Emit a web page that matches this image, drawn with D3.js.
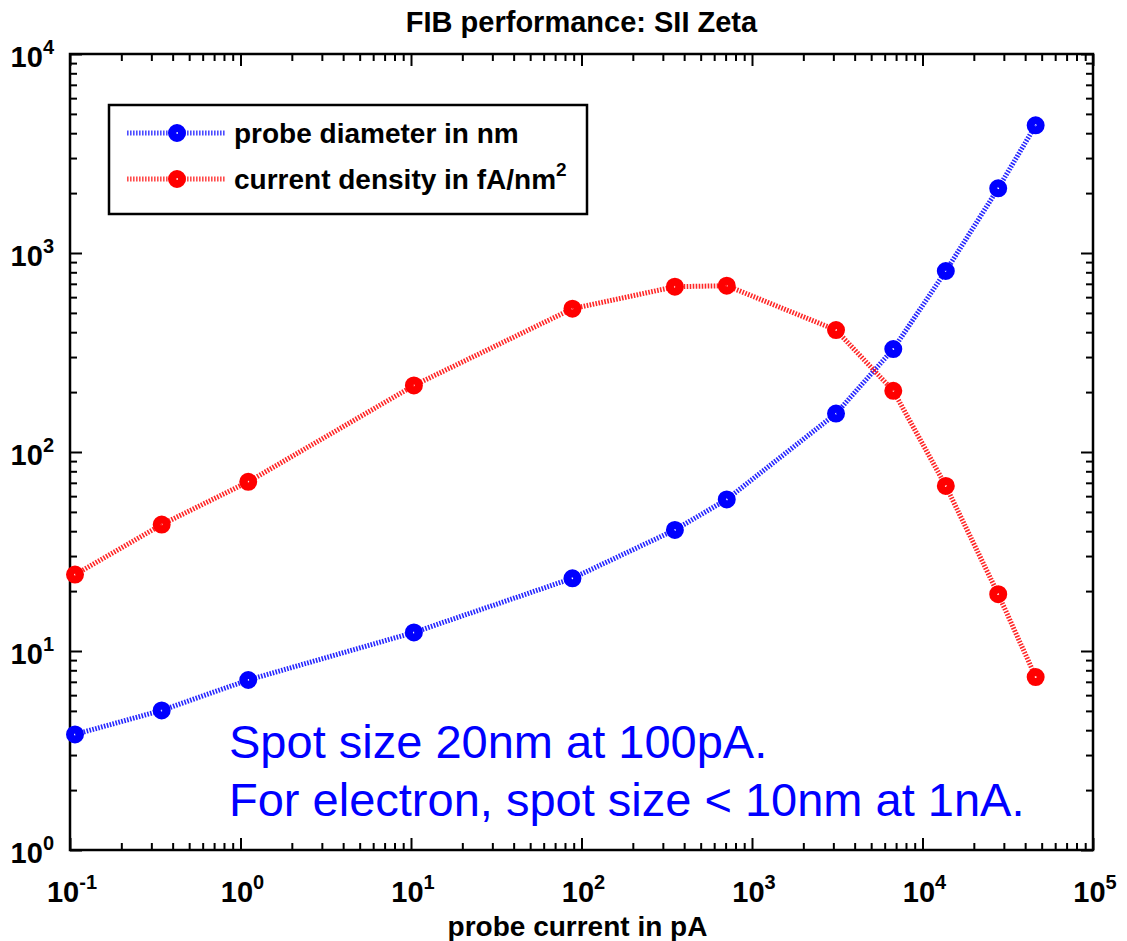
<!DOCTYPE html>
<html lang="en">
<head>
	<meta charset="utf-8">
	<title>FIB performance: SII Zeta</title>
	<script src="https://d3js.org/d3.v7.min.js"></script>
	<style type="text/css">
		body { margin: 0; background: #fff; }
		text { font-family: Arial, "Liberation Sans", Helvetica, sans-serif; }
	</style>
</head>
<body>
	<svg id="chart" width="1127" height="941"></svg>

	<script type="text/javascript">
	// data
	var probeCurrent = [0.107, 0.345, 1.11, 10.4, 88.5, 353, 711, 3110, 6740, 13700, 27800, 46100]   // pA
	var probeDiameter = [3.81, 5.03, 7.15, 12.4, 23.2, 40.6, 57.8, 156, 329, 812, 2115, 4383]      // nm
	var currentDensity = [24.2, 43.2, 70.8, 216, 525, 677, 685, 410, 203, 67.5, 19.3, 7.4]         // fA/nm^2

	var seriesNames = ["probe diameter in nm", "current density in fA/nm"]
	var seriesColors = ["#0000ff", "#ff0000"]

	var xExps = [-1, 0, 1, 2, 3, 4, 5]
	var yExps = [0, 1, 2, 3, 4]

	var titleText = "FIB performance: SII Zeta"
	var xLabelText = "probe current in pA"
	var noteLines = ["Spot size 20nm at 100pA.", "For electron, spot size < 10nm at 1nA."]

	// layout (plot box)
	var plotL = 70, plotR = 1093, plotT = 54, plotB = 850

	var x = d3.scaleLog().domain([0.1, 1e5]).range([plotL, plotR])
	var y = d3.scaleLog().domain([1, 1e4]).range([plotB, plotT])

	var svg = d3.select("#chart")

	// minor ticks (2..9 per decade)
	function minors(exps) {
		var out = []
		exps.slice(0, -1).forEach(e => {
			for (var m = 2; m <= 9; m++) out.push(m * Math.pow(10, e))
		})
		return out
	}
	var xMajor = xExps.map(e => Math.pow(10, e))
	var yMajor = yExps.map(e => Math.pow(10, e))
	var xMinor = minors(xExps)
	var yMinor = minors(yExps)

	function drawAxis(axisFn, scale, vals, size, tx, ty) {
		var g = svg.append("g")
			.attr("transform", "translate(" + tx + "," + ty + ")")
			.call(axisFn(scale).tickValues(vals).tickSize(size).tickFormat(""))
		g.select(".domain").remove()
		g.selectAll("line").attr("stroke", "#000").attr("stroke-width", 2)
	}
	// ticks point inward on all four sides
	drawAxis(d3.axisBottom, x, xMinor, -7, 0, plotB)
	drawAxis(d3.axisBottom, x, xMajor, -12, 0, plotB)
	drawAxis(d3.axisTop, x, xMinor, -7, 0, plotT)
	drawAxis(d3.axisTop, x, xMajor, -12, 0, plotT)
	drawAxis(d3.axisLeft, y, yMinor, -7, plotL, 0)
	drawAxis(d3.axisLeft, y, yMajor, -12, plotL, 0)
	drawAxis(d3.axisRight, y, yMinor, -7, plotR, 0)
	drawAxis(d3.axisRight, y, yMajor, -12, plotR, 0)

	// box
	svg.append("rect")
		.attr("x", plotL).attr("y", plotT)
		.attr("width", plotR - plotL).attr("height", plotB - plotT)
		.attr("fill", "none").attr("stroke", "#000").attr("stroke-width", 2.5)

	// tick labels, 10 with superscript exponent
	function powLabel(sel, e) {
		sel.append("tspan").text("10")
		sel.append("tspan").attr("dy", -13).attr("font-size", 20).text(e)
	}
	xExps.forEach(e => {
		svg.append("text")
			.attr("x", x(Math.pow(10, e)) + 2).attr("y", plotB + 52)
			.attr("text-anchor", "middle")
			.attr("font-size", 29).attr("font-weight", "bold")
			.call(powLabel, e)
	})
	yExps.forEach(e => {
		svg.append("text")
			.attr("x", plotL - 16).attr("y", y(Math.pow(10, e)) + 13)
			.attr("text-anchor", "end")
			.attr("font-size", 29).attr("font-weight", "bold")
			.call(powLabel, e)
	})

	// title and x label
	svg.append("text")
		.attr("x", (plotL + plotR) / 2).attr("y", 32)
		.attr("text-anchor", "middle")
		.attr("font-size", 29).attr("font-weight", "bold")
		.text(titleText)
	svg.append("text")
		.attr("x", (plotL + plotR) / 2 - 4).attr("y", 936)
		.attr("text-anchor", "middle")
		.attr("font-size", 28).attr("font-weight", "bold")
		.text(xLabelText)

	// series
	var series = [probeDiameter, currentDensity]
	var line = d3.line()
		.x((d, i) => x(probeCurrent[i]))
		.y(d => y(d))

	series.forEach((vals, k) => {
		svg.append("path")
			.datum(vals)
			.attr("d", line)
			.attr("fill", "none")
			.attr("stroke", seriesColors[k])
			.attr("stroke-width", 5)
			.attr("stroke-dasharray", "1.6,1.4")
			.attr("opacity", 0.85)
		svg.append("g").selectAll("circle")
			.data(vals)
			.enter()
			.append("circle")
			.attr("cx", (d, i) => x(probeCurrent[i]))
			.attr("cy", d => y(d))
			.attr("r", 5)
			.attr("fill", "none")
			.attr("stroke", seriesColors[k])
			.attr("stroke-width", 8)
	})

	// legend
	var legend = svg.append("g")
	legend.append("rect")
		.attr("x", 109).attr("y", 105)
		.attr("width", 478).attr("height", 109)
		.attr("fill", "#fff").attr("stroke", "#000").attr("stroke-width", 2.5)
	var rowY = [133, 179]
	seriesNames.forEach((name, k) => {
		legend.append("line")
			.attr("x1", 127).attr("x2", 225)
			.attr("y1", rowY[k]).attr("y2", rowY[k])
			.attr("stroke", seriesColors[k])
			.attr("stroke-width", 5)
			.attr("stroke-dasharray", "1.6,1.4")
			.attr("opacity", 0.7)
		legend.append("circle")
			.attr("cx", 177).attr("cy", rowY[k])
			.attr("r", 5)
			.attr("fill", "none")
			.attr("stroke", seriesColors[k])
			.attr("stroke-width", 8)
		var t = legend.append("text")
			.attr("x", 234).attr("y", rowY[k] + 10)
			.attr("font-size", 28).attr("font-weight", "bold")
			.text(name)
		if (k == 1) {
			t.append("tspan").attr("dy", -13).attr("font-size", 19).text("2")
		}
	})

	// annotation
	noteLines.forEach((s, i) => {
		svg.append("text")
			.attr("x", 229).attr("y", 758 + i * 58)
			.attr("font-size", 47)
			.attr("fill", "#0000ff")
			.text(s)
	})
	</script>
</body>
</html>
